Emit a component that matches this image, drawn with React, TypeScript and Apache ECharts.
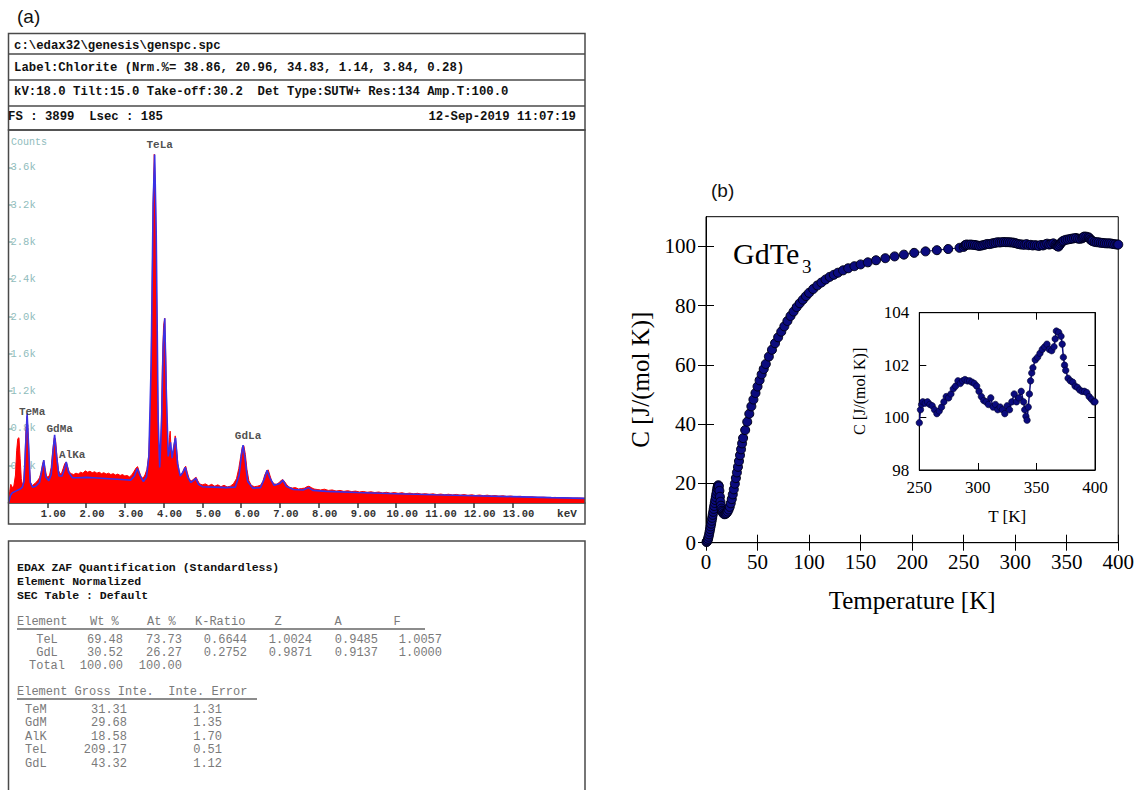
import React, { useEffect, useRef } from "react";
import * as echarts from "echarts";

// ================= Panel (a): EDAX header / table texts =================
const headerFile = "c:\\edax32\\genesis\\genspc.spc";
const headerLabel = "Label:Chlorite (Nrm.%= 38.86, 20.96, 34.83, 1.14, 3.84, 0.28)";
const headerKv = "kV:18.0 Tilt:15.0 Take-off:30.2  Det Type:SUTW+ Res:134 Amp.T:100.0";
const headerFs = "FS : 3899  Lsec : 185";
const headerDate = "12-Sep-2019 11:07:19";

const quantTitle = ["EDAX ZAF Quantification (Standardless)", "Element Normalized", "SEC Table : Default"];
const zafHeader = ["Element", "Wt %", "At %", "K-Ratio", "Z", "A", "F"];
const zafElements = ["TeL", "GdL", "Total"];
const zafWt = ["69.48", "30.52", "100.00"];
const zafAt = ["73.73", "26.27", "100.00"];
const zafK = ["0.6644", "0.2752", ""];
const zafZ = ["1.0024", "0.9871", ""];
const zafA = ["0.9485", "0.9137", ""];
const zafF = ["1.0057", "1.0000", ""];
const grossHeader = "Element Gross Inte.  Inte. Error";
const grossElements = ["TeM", "GdM", "AlK", "TeL", "GdL"];
const grossInte = ["31.31", "29.68", "18.58", "209.17", "43.32"];
const grossErr = ["1.31", "1.35", "1.70", "0.51", "1.12"];

// ================= Panel (a): EDS spectrum =================
const kevTicks = [1, 2, 3, 4, 5, 6, 7, 8, 9, 10, 11, 12, 13];
const countTicks = [400, 800, 1200, 1600, 2000, 2400, 2800, 3200, 3600];

const kevRed = [0.0, 0.03, 0.06, 0.1, 0.14, 0.18, 0.21, 0.24, 0.27, 0.3, 0.33, 0.36, 0.39, 0.42, 0.45, 0.48, 0.51, 0.54, 0.57, 0.61, 0.65, 0.7, 0.75, 0.8, 0.84, 0.88, 0.91, 0.94, 0.98, 1.02, 1.06, 1.1, 1.14, 1.18, 1.21, 1.25, 1.29, 1.33, 1.37, 1.41, 1.45, 1.49, 1.53, 1.57, 1.62, 1.68, 1.74, 1.8, 1.86, 1.92, 1.98, 2.04, 2.1, 2.16, 2.22, 2.28, 2.34, 2.4, 2.46, 2.52, 2.58, 2.64, 2.7, 2.76, 2.82, 2.88, 2.94, 3.0, 3.06, 3.12, 3.18, 3.24, 3.29, 3.33, 3.37, 3.42, 3.47, 3.52, 3.57, 3.62, 3.66, 3.7, 3.73, 3.76, 3.79, 3.82, 3.85, 3.88, 3.91, 3.94, 3.97, 4.0, 4.03, 4.06, 4.09, 4.12, 4.15, 4.17, 4.2, 4.23, 4.27, 4.3, 4.33, 4.37, 4.41, 4.45, 4.49, 4.53, 4.57, 4.61, 4.66, 4.71, 4.76, 4.8, 4.84, 4.88, 4.93, 5.0, 5.08, 5.16, 5.24, 5.32, 5.4, 5.48, 5.56, 5.64, 5.72, 5.8, 5.88, 5.94, 5.99, 6.03, 6.07, 6.11, 6.15, 6.2, 6.26, 6.34, 6.42, 6.5, 6.56, 6.61, 6.66, 6.7, 6.74, 6.79, 6.85, 6.92, 6.98, 7.03, 7.07, 7.11, 7.17, 7.24, 7.32, 7.4, 7.48, 7.56, 7.64, 7.7, 7.75, 7.81, 7.88, 7.96, 8.05, 8.15, 8.25, 8.35, 8.45, 8.55, 8.65, 8.75, 8.85, 8.95, 9.05, 9.15, 9.25, 9.35, 9.45, 9.55, 9.65, 9.75, 9.85, 9.95, 10.05, 10.15, 10.25, 10.35, 10.45, 10.55, 10.65, 10.75, 10.85, 10.95, 11.05, 11.15, 11.25, 11.35, 11.45, 11.55, 11.65, 11.75, 11.85, 11.95, 12.05, 12.15, 12.25, 12.35, 12.45, 12.55, 12.65, 12.75, 12.85, 12.95, 13.05, 13.2, 13.35, 13.5, 13.65, 13.8, 13.95, 14.1, 14.25, 14.4, 14.55, 14.7, 14.87];
const countsRed = [0, 120, 200, 160, 190, 300, 560, 690, 700, 480, 260, 190, 230, 420, 780, 930, 720, 380, 220, 185, 200, 215, 240, 270, 330, 420, 455, 380, 290, 275, 300, 380, 560, 700, 690, 500, 350, 310, 320, 370, 420, 440, 380, 330, 315, 305, 320, 310, 330, 320, 345, 330, 340, 325, 335, 320, 330, 315, 325, 310, 320, 305, 315, 300, 310, 295, 305, 290, 295, 280, 300, 340, 375, 390, 340, 280, 265, 300, 360, 520, 1000, 2100, 3200, 3740, 3350, 2200, 1100, 480, 420, 800, 1500, 1900, 1980, 1500, 800, 480, 700, 770, 520, 480, 620, 720, 600, 420, 320, 300, 330, 370, 395, 330, 260, 235, 250, 265, 275, 240, 205, 195, 205, 185, 200, 180, 195, 175, 190, 172, 180, 205, 260, 370, 500, 600, 615, 520, 360, 240, 190, 175, 180, 190, 230, 300, 345, 355, 300, 235, 205, 200, 220, 240, 252, 235, 200, 170, 160, 165, 150, 155, 160, 175, 180, 165, 150, 145, 140, 148, 135, 140, 128, 135, 125, 132, 122, 128, 118, 124, 115, 120, 112, 118, 108, 115, 105, 112, 104, 110, 100, 106, 98, 104, 95, 100, 93, 98, 90, 96, 88, 94, 86, 92, 84, 90, 82, 88, 80, 86, 78, 84, 76, 80, 73, 78, 70, 75, 68, 72, 64, 66, 60, 62, 57, 60, 55, 56, 52, 54, 50];

const kevBlue = [0.0, 0.05, 0.1, 0.2, 0.3, 0.36, 0.4, 0.44, 0.48, 0.52, 0.56, 0.62, 0.7, 0.8, 0.86, 0.91, 0.96, 1.04, 1.1, 1.15, 1.19, 1.24, 1.3, 1.38, 1.44, 1.49, 1.55, 1.65, 1.8, 2.0, 2.2, 2.4, 2.6, 2.8, 3.0, 3.15, 3.25, 3.32, 3.4, 3.48, 3.56, 3.62, 3.68, 3.73, 3.77, 3.81, 3.86, 3.9, 3.95, 3.99, 4.03, 4.07, 4.12, 4.18, 4.22, 4.27, 4.31, 4.36, 4.43, 4.5, 4.56, 4.62, 4.7, 4.77, 4.83, 4.9, 5.0, 5.3, 5.6, 5.85, 5.95, 6.01, 6.05, 6.1, 6.17, 6.3, 6.5, 6.6, 6.67, 6.74, 6.85, 7.0, 7.08, 7.16, 7.35, 7.6, 7.74, 7.85, 8.2, 9.0, 10.0, 11.0, 12.0, 13.0, 14.0, 14.87];
const countsBlue = [0, 80, 110, 130, 150, 170, 230, 600, 960, 600, 220, 170, 180, 220, 350, 460, 280, 240, 300, 560, 730, 500, 290, 290, 360, 440, 330, 270, 270, 275, 270, 265, 260, 255, 250, 245, 290, 370, 290, 230, 280, 500, 1500, 3200, 3738, 2900, 900, 380, 900, 1700, 1980, 1200, 500, 650, 480, 620, 700, 420, 290, 330, 383, 280, 220, 240, 266, 200, 175, 170, 165, 170, 300, 520, 620, 480, 230, 160, 165, 260, 350, 270, 190, 210, 245, 180, 145, 140, 165, 135, 125, 112, 100, 88, 78, 68, 58, 50];

const peakNames = ["TeMa", "GdMa", "AlKa", "TeLa", "GdLa"];
const peakKev = [0.48, 1.19, 1.49, 3.77, 6.05];
const peakCounts = [957, 723, 436, 3738, 617];

// ================= Panel (b): heat capacity of GdTe3 =================
const mainXTicks = [0, 50, 100, 150, 200, 250, 300, 350, 400];
const mainYTicks = [0, 20, 40, 60, 80, 100];

const lowT = [0.5, 1, 1.5, 2, 2.5, 3, 3.5, 4, 4.5, 5, 5.5, 6, 6.5, 7, 7.5, 8, 8.5, 9, 9.5, 10, 10.5, 11, 11.5, 12, 12.5, 13, 13.5, 14, 14.5, 15, 15.5, 16, 17, 18, 19, 20, 21, 22, 23, 24, 25, 26, 27, 28, 29, 30, 31, 32, 33, 34, 35, 36, 38, 40, 42, 44, 46, 48, 50, 52, 54, 56, 58, 61, 64, 67, 70, 73, 76, 79, 82, 85, 88, 91, 94, 97, 100, 104, 108, 112, 116, 120, 124, 128, 133, 138, 144, 150, 157, 165, 174, 183, 192, 202, 213, 224, 235, 246];
const lowC = [0.2, 0.4, 0.8, 1.3, 2, 2.8, 3.7, 4.6, 5.5, 6.4, 7.4, 8.4, 9.4, 10.4, 11.4, 12.4, 13.4, 14.4, 15.4, 16.4, 17.4, 18.4, 19.1, 19.4, 19, 17.5, 15.5, 13.8, 12.5, 11.5, 10.8, 10.3, 9.8, 9.6, 9.7, 10, 10.5, 11.2, 12.1, 13.3, 14.7, 16.3, 18, 19.9, 21.8, 23.7, 25.6, 27.5, 29.5, 31.5, 33.5, 35.3, 38, 40.8, 43.5, 46, 48.3, 50.5, 52.7, 54.8, 56.8, 58.6, 60.3, 62.8, 65.1, 67.3, 69.3, 71.2, 73, 74.8, 76.5, 78, 79.5, 80.8, 82, 83.2, 84.3, 85.6, 86.8, 87.8, 88.8, 89.7, 90.4, 91.1, 91.9, 92.6, 93.3, 93.9, 94.6, 95.3, 96, 96.6, 97.2, 97.8, 98.3, 98.7, 99.1, 99.5];

const highT = [250, 251, 252, 253, 255, 257, 259, 261, 263, 265, 267, 269, 271, 273, 275, 277, 279, 281, 283, 285, 287, 289, 291, 293, 295, 297, 299, 301, 303, 305, 307, 309, 311, 313, 315, 317, 319, 321, 323, 325, 327, 329, 331, 333, 335, 337, 339, 340, 341, 342, 343, 344, 345, 346, 347, 349, 351, 353, 355, 357, 359, 361, 363, 365, 366, 367, 369, 371, 372, 373, 374, 375, 377, 379, 381, 383, 385, 387, 389, 391, 393, 395, 397, 399, 400];
const highC = [99.8, 100.3, 100.5, 100.6, 100.55, 100.6, 100.5, 100.45, 100.3, 100.15, 100.25, 100.4, 100.6, 100.8, 100.75, 100.9, 101.1, 101.2, 101.4, 101.3, 101.4, 101.45, 101.4, 101.4, 101.35, 101.3, 101.2, 101.0, 100.8, 100.65, 100.6, 100.5, 100.75, 100.4, 100.5, 100.3, 100.4, 100.3, 100.15, 100.45, 100.3, 100.6, 100.9, 100.6, 100.75, 101.0, 100.6, 100.3, 100.05, 99.9, 100.4, 100.9, 101.4, 101.7, 101.9, 102.2, 102.3, 102.45, 102.6, 102.7, 102.8, 102.6, 102.55, 102.7, 103.0, 103.3, 103.25, 103.1, 102.8, 102.3, 102.0, 101.8, 101.5, 101.4, 101.35, 101.2, 101.15, 101.05, 101.0, 101.0, 100.95, 100.8, 100.7, 100.6, 100.6];

const insetXTicks = [250, 300, 350, 400];
const insetYTicks = [98, 100, 102, 104];

// ---------------- styling constants ----------------
const MONO = "'Liberation Mono', 'DejaVu Sans Mono', monospace";
const SERIF = "'Liberation Serif', 'DejaVu Serif', serif";
const SANS = "'Liberation Sans', Arial, sans-serif";
const BOX = "#4a4a4a";
const GRAYTXT = "#7a7a7a";
const peakLabelOffsets: Record<string, number[]> = {
  TeMa: [5, -2],
  GdMa: [5, -7],
  AlKa: [6, -7],
  TeLa: [5, -9],
  GdLa: [5, -9],
};

function txt(x: number, y: number, text: string, opts: any = {}) {
  return {
    type: "text",
    x,
    y,
    z: 120,
    silent: true,
    style: {
      text,
      fontFamily: opts.fontFamily || MONO,
      fontSize: opts.fontSize || 12,
      fontWeight: opts.fontWeight || "normal",
      fill: opts.fill || "#222",
      align: opts.align || "left",
      verticalAlign: "middle",
    },
  };
}
function hline(x1: number, x2: number, y: number, stroke = BOX, lw = 1.5) {
  return { type: "line", z: 110, silent: true, shape: { x1, y1: y, x2, y2: y }, style: { stroke, lineWidth: lw } };
}
function box(x: number, y: number, w: number, h: number) {
  return { type: "rect", z: 110, silent: true, shape: { x, y, width: w, height: h }, style: { fill: "none", stroke: BOX, lineWidth: 1.5 } };
}

function buildGraphic() {
  const g: any[] = [];
  // panel letters
  g.push(txt(17, 16, "(a)", { fontFamily: SANS, fontSize: 19, fill: "#111" }));
  g.push(txt(711, 190, "(b)", { fontFamily: SANS, fontSize: 19, fill: "#111" }));
  // header box
  g.push(box(8.5, 33.5, 576.5, 96.5));
  g.push(hline(8.5, 585, 54));
  g.push(hline(8.5, 585, 80));
  g.push(hline(8.5, 585, 106));
  const hb = { fontWeight: "bold", fontSize: 12.3, fill: "#111" };
  g.push(txt(14, 46, headerFile, hb));
  g.push(txt(14, 68, headerLabel, hb));
  g.push(txt(14, 92, headerKv, hb));
  g.push(txt(8, 117, headerFs, hb));
  g.push(txt(576, 117, headerDate, { ...hb, align: "right" }));
  // chart box
  g.push(box(8.5, 130, 576.5, 394));
  g.push(txt(11, 142, "Counts", { fontSize: 10, fill: "#8fbcbc" }));
  g.push(txt(567, 514, "keV", { fontSize: 11, fontWeight: "bold", fill: "#333", align: "center" }));
  // table box
  g.push(box(8.5, 541, 576.5, 270));
  const tb = { fontWeight: "bold", fontSize: 11.5, fill: "#111" };
  quantTitle.forEach((t, i) => g.push(txt(17, 567 + i * 14, t, tb)));
  const gt = { fontSize: 12, fill: GRAYTXT };
  // ZAF header
  const hdrX = [17, 90, 147, 195, 278, 338, 397];
  const hdrAlign = ["left", "left", "left", "left", "center", "center", "center"];
  zafHeader.forEach((h, i) => g.push(txt(hdrX[i], 622, h, { ...gt, align: hdrAlign[i] })));
  g.push(hline(17, 425, 629, "#666", 1.5));
  zafElements.forEach((el, r) => {
    const y = 640 + r * 13;
    g.push(txt(47, y, el, { ...gt, align: "center" }));
    g.push(txt(123, y, zafWt[r], { ...gt, align: "right" }));
    g.push(txt(182, y, zafAt[r], { ...gt, align: "right" }));
    if (zafK[r]) g.push(txt(247, y, zafK[r], { ...gt, align: "right" }));
    if (zafZ[r]) g.push(txt(312, y, zafZ[r], { ...gt, align: "right" }));
    if (zafA[r]) g.push(txt(378, y, zafA[r], { ...gt, align: "right" }));
    if (zafF[r]) g.push(txt(442, y, zafF[r], { ...gt, align: "right" }));
  });
  g.push(txt(17, 692, grossHeader, gt));
  g.push(hline(17, 257, 699, "#666", 1.5));
  grossElements.forEach((el, r) => {
    const y = 710 + r * 13.4;
    g.push(txt(25, y, el, gt));
    g.push(txt(127, y, grossInte[r], { ...gt, align: "right" }));
    g.push(txt(222, y, grossErr[r], { ...gt, align: "right" }));
  });
  // GdTe3 label
  g.push(txt(733, 253, "GdTe", { fontFamily: SERIF, fontSize: 30, fill: "#000" }));
  g.push(txt(802, 266, "3", { fontFamily: SERIF, fontSize: 19, fill: "#000" }));
  return g;
}

function zip(a: number[], b: number[]) {
  return a.map((v, i) => [v, b[i]]);
}

function buildOption(): any {
  const serifLabel = { fontFamily: SERIF, color: "#000" };
  const tickIn = (len: number) => ({ show: true, inside: true, length: len, lineStyle: { color: "#000", width: 1 } });
  const blackLine = { show: true, lineStyle: { color: "#000", width: 1 } };
  return {
    animation: false,
    backgroundColor: "#fff",
    grid: [
      { left: 8.5, top: 130, width: 576.5, height: 373, show: false },
      { left: 706, top: 216.7, width: 415.7, height: 326, show: true, borderColor: "#000", borderWidth: 1, backgroundColor: "transparent" },
      { left: 919.3, top: 312.7, width: 175.7, height: 157.3, show: true, borderColor: "#000", borderWidth: 1, backgroundColor: "transparent" },
    ],
    xAxis: [
      {
        gridIndex: 0, type: "value", min: 0, max: 14.87,
        axisLine: { show: true, lineStyle: { color: "#333", width: 1.5 } },
        axisTick: { show: true, customValues: kevTicks, length: 5, lineStyle: { color: "#333", width: 1.5 } },
        axisLabel: {
          customValues: kevTicks, formatter: (v: number) => v.toFixed(2), margin: 5,
          fontFamily: MONO, fontSize: 10.5, fontWeight: "bold", color: "#333", padding: [0, 0, 0, 12],
        },
        splitLine: { show: false },
      },
      {
        gridIndex: 1, type: "value", min: 0, max: 400, position: "bottom",
        axisLine: blackLine, axisTick: { ...tickIn(8), customValues: mainXTicks },
        axisLabel: { ...serifLabel, fontSize: 21, margin: 9, customValues: mainXTicks },
        splitLine: { show: false },
        name: "Temperature [K]", nameLocation: "middle", nameGap: 45,
        nameTextStyle: { fontFamily: SERIF, fontSize: 25, color: "#000" },
      },
      {
        gridIndex: 1, type: "value", min: 0, max: 400, position: "top",
        axisLine: blackLine, axisTick: { ...tickIn(8), customValues: mainXTicks },
        axisLabel: { show: false }, splitLine: { show: false },
      },
      {
        gridIndex: 2, type: "value", min: 250, max: 400, position: "bottom",
        axisLine: blackLine, axisTick: { ...tickIn(7), customValues: insetXTicks },
        axisLabel: { ...serifLabel, fontSize: 17, margin: 9, customValues: insetXTicks },
        splitLine: { show: false },
        name: "T [K]", nameLocation: "middle", nameGap: 38,
        nameTextStyle: { fontFamily: SERIF, fontSize: 17, color: "#000" },
      },
      {
        gridIndex: 2, type: "value", min: 250, max: 400, position: "top",
        axisLine: blackLine, axisTick: { ...tickIn(7), customValues: insetXTicks },
        axisLabel: { show: false }, splitLine: { show: false },
      },
    ],
    yAxis: [
      {
        gridIndex: 0, type: "value", min: 0, max: 4000,
        axisLine: { show: false },
        axisTick: { show: true, inside: true, customValues: countTicks, length: 4, lineStyle: { color: "#8fbcbc", width: 1.5 } },
        axisLabel: {
          inside: true, customValues: countTicks, margin: 2,
          formatter: (v: number) => (v / 1000).toFixed(1) + "k",
          fontFamily: MONO, fontSize: 10.5, color: "#8fbcbc",
        },
        splitLine: { show: false },
      },
      {
        gridIndex: 1, type: "value", min: 0, max: 110, position: "left",
        axisLine: blackLine, axisTick: { ...tickIn(8), customValues: mainYTicks },
        axisLabel: { ...serifLabel, fontSize: 21, margin: 10, customValues: mainYTicks },
        splitLine: { show: false },
        name: "C [J/(mol K)]", nameLocation: "middle", nameGap: 53, nameRotate: 90,
        nameTextStyle: { fontFamily: SERIF, fontSize: 25, color: "#000" },
      },
      {
        gridIndex: 1, type: "value", min: 0, max: 110, position: "right",
        axisLine: blackLine, axisTick: { ...tickIn(8), customValues: mainYTicks },
        axisLabel: { show: false }, splitLine: { show: false },
      },
      {
        gridIndex: 2, type: "value", min: 98, max: 104, position: "left",
        axisLine: blackLine, axisTick: { ...tickIn(7), customValues: insetYTicks },
        axisLabel: { ...serifLabel, fontSize: 17, margin: 10, customValues: insetYTicks },
        splitLine: { show: false },
        name: "C [J/(mol K)]", nameLocation: "middle", nameGap: 52, nameRotate: 90,
        nameTextStyle: { fontFamily: SERIF, fontSize: 16, color: "#000" },
      },
      {
        gridIndex: 2, type: "value", min: 98, max: 104, position: "right",
        axisLine: blackLine, axisTick: { ...tickIn(7), customValues: insetYTicks },
        axisLabel: { show: false }, splitLine: { show: false },
      },
    ],
    series: [
      {
        type: "line", xAxisIndex: 0, yAxisIndex: 0, data: zip(kevRed, countsRed),
        symbol: "none", lineStyle: { color: "#ff0000", width: 1 },
        areaStyle: { color: "#ff0000", opacity: 1 }, z: 2,
      },
      {
        type: "line", xAxisIndex: 0, yAxisIndex: 0, data: zip(kevBlue, countsBlue),
        symbol: "none", lineStyle: { color: "#3a30e6", width: 1.6 }, z: 3,
      },
      {
        type: "scatter", xAxisIndex: 0, yAxisIndex: 0, symbolSize: 1, z: 5,
        itemStyle: { color: "rgba(0,0,0,0)" },
        data: peakNames.map((n, i) => ({
          name: n, value: [peakKev[i], peakCounts[i]],
          label: { offset: peakLabelOffsets[n] },
        })),
        label: {
          show: true, position: "inside", formatter: (p: any) => p.name,
          fontFamily: MONO, fontSize: 11, fontWeight: "bold", color: "#222",
        },
      },
      {
        type: "line", xAxisIndex: 1, yAxisIndex: 1,
        data: zip(lowT, lowC).concat(zip(highT, highC)),
        symbol: "circle", symbolSize: 9, showAllSymbol: true,
        itemStyle: { color: "#0b0b7e", borderColor: "#000018", borderWidth: 1 },
        lineStyle: { color: "#0b0b6e", width: 1 }, z: 4,
      },
      {
        type: "line", xAxisIndex: 3, yAxisIndex: 3, data: zip(highT, highC),
        symbol: "circle", symbolSize: 6.5, showAllSymbol: true,
        itemStyle: { color: "#0b0b7e", borderColor: "#00002a", borderWidth: 0.6 },
        lineStyle: { color: "#0b0b7e", width: 1.5 }, z: 4,
      },
    ],
    graphic: buildGraphic(),
  };
}

export default function App() {
  const ref = useRef<HTMLDivElement>(null);
  useEffect(() => {
    if (!ref.current) return;
    const chart = echarts.init(ref.current, null, { renderer: "svg" });
    chart.setOption(buildOption());
    return () => chart.dispose();
  }, []);
  return (
    <div
      ref={ref}
      style={{ position: "fixed", left: 0, top: 0, width: 1137, height: 790, background: "#fff" }}
    />
  );
}
